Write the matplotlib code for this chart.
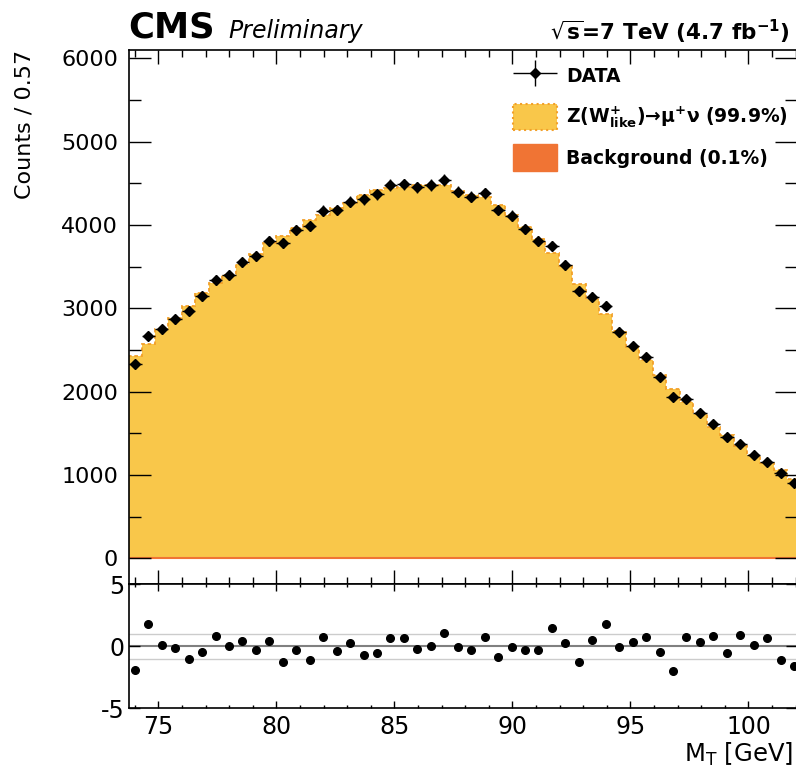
import numpy as np
import matplotlib.pyplot as plt
from matplotlib.patches import Patch
from matplotlib.ticker import MultipleLocator
from matplotlib.container import ErrorbarContainer
from matplotlib.legend_handler import HandlerErrorbar

plt.rcParams['font.family'] = ['DejaVu Sans']
plt.rcParams['mathtext.fontset'] = 'dejavusans'
plt.rcParams['axes.unicode_minus'] = False

# binning of M_T
bin_lo = 73.72
bin_w = 0.57
n_bins = 50

# counts per bin (data points)
data = [2330, 2670, 2750, 2870, 2970, 3150, 3340, 3400, 3550, 3630,
        3810, 3780, 3940, 3990, 4170, 4180, 4280, 4310, 4370, 4480,
        4490, 4450, 4480, 4540, 4400, 4340, 4380, 4180, 4110, 3950,
        3810, 3750, 3520, 3210, 3140, 3030, 2720, 2550, 2410, 2180,
        1940, 1910, 1740, 1610, 1450, 1370, 1240, 1160, 1020, 900]

# Z(W+like) -> mu nu expectation
zmumu = [2425, 2575, 2750, 2880, 3025, 3175, 3295, 3400, 3530, 3645,
         3785, 3860, 3960, 4060, 4120, 4205, 4260, 4355, 4410, 4435,
         4450, 4470, 4480, 4470, 4405, 4360, 4330, 4235, 4115, 3970,
         3830, 3660, 3505, 3285, 3110, 2930, 2720, 2535, 2375, 2200,
         2025, 1875, 1725, 1575, 1475, 1340, 1235, 1140, 1055, 950]

# background (0.1%)
bkg = [2, 2, 3, 3, 3, 3, 3, 4, 4, 4, 4, 4, 4, 4, 4, 4, 4, 4, 4, 4,
       4, 4, 4, 4, 4, 4, 4, 4, 4, 4, 4, 4, 3, 3, 3, 3, 3, 3, 3, 2,
       2, 2, 2, 2, 2, 2, 2, 2, 1, 1]

# pulls in the lower panel
pull = [-1.93, 1.82, 0.08, -0.16, -1.07, -0.48, 0.80, 0.0, 0.40, -0.32,
        0.40, -1.29, -0.32, -1.13, 0.72, -0.40, 0.24, -0.72, -0.56, 0.64,
        0.64, -0.24, 0.0, 1.05, -0.08, -0.32, 0.72, -0.88, -0.08, -0.32,
        -0.32, 1.45, 0.24, -1.29, 0.48, 1.77, -0.08, 0.32, 0.72, -0.48,
        -2.01, 0.72, 0.32, 0.80, -0.56, 0.88, 0.08, 0.64, -1.13, -1.61]

yellow = '#F9C74A'
yedge = '#F2A02A'
orange = '#F07434'

edges = bin_lo + bin_w * np.arange(n_bins + 1)
centers = edges[:-1] + bin_w / 2
data = np.array(data, dtype=float)
total = np.array(zmumu) + np.array(bkg)

W, H = 796, 768
fig = plt.figure(figsize=(W / 100, H / 100), dpi=100)
x0 = 129.3 / W
wd = (797 - 129.3) / W
ax = fig.add_axes([x0, 1 - 584 / H, wd, (584 - 50) / H])
ax2 = fig.add_axes([x0, 1 - 708.3 / H, wd, 124.3 / H])

# stacked histogram
ax.stairs(total, edges, fill=True, color=yellow, baseline=0)
ax.stairs(total, edges, baseline=None, color=yedge, lw=1.3, linestyle=(0, (2, 1.5)))
ax.stairs(bkg, edges, fill=True, color=orange, baseline=0)
ax.stairs(bkg, edges, baseline=None, color=orange, lw=1.5)

eb = ax.errorbar(centers, data, xerr=bin_w / 2, yerr=np.sqrt(data), fmt='D', ms=5.5,
                 color='k', elinewidth=1, capsize=0)

ax.set_xlim(73.77, 102.06)
ax.set_ylim(-308, 6100)
ax.xaxis.set_major_locator(MultipleLocator(5))
ax.xaxis.set_minor_locator(MultipleLocator(1))
ax.yaxis.set_major_locator(MultipleLocator(1000))
ax.yaxis.set_minor_locator(MultipleLocator(500))
ax.tick_params(axis='both', which='both', direction='in', top=True, right=True,
               labelbottom=False, width=1)
ax.tick_params(axis='y', which='major', length=16, labelsize=16, pad=8)
ax.tick_params(axis='y', which='minor', length=8.5)
ax.tick_params(axis='x', which='major', length=10)
ax.tick_params(axis='x', which='minor', length=5)
for s in ax.spines.values():
    s.set_linewidth(1.2)

# lower panel
ax2.axhline(0, color='#808080', lw=1.5, zorder=1)
ax2.axhline(1, color='#cccccc', lw=1, zorder=1)
ax2.axhline(-1, color='#cccccc', lw=1, zorder=1)
ax2.plot(centers, pull, 'o', color='k', ms=5.5, zorder=3)
ax2.set_xlim(73.77, 102.06)
ax2.set_ylim(-5, 5)
ax2.set_yticks([-5, 0, 5])
ax2.xaxis.set_major_locator(MultipleLocator(5))
ax2.xaxis.set_minor_locator(MultipleLocator(1))
ax2.tick_params(axis='both', which='both', direction='in', top=True, right=True, width=1)
ax2.tick_params(axis='x', which='major', length=5, labelsize=17, pad=5)
ax2.tick_params(axis='x', which='minor', length=2.5)
ax2.tick_params(axis='y', which='major', length=8, labelsize=17, pad=3.5)
for s in ax2.spines.values():
    s.set_linewidth(1.2)

# texts
fig.text(128 / W, 1 - 38 / H, 'CMS', fontsize=25.5, fontweight='bold', va='baseline')
fig.text(228 / W, 1 - 38 / H, 'Preliminary', fontsize=17, style='italic', va='baseline')
fig.text(790 / W, 1 - 40 / H, r'$\sqrt{\mathbf{s}}$=7 TeV (4.7 fb$^{\mathbf{-1}}$)',
         fontsize=15.5, fontweight='bold', ha='right', va='baseline')
fig.text(25 / W, 1 - 50 / H, 'Counts / 0.57', rotation=90, ha='center', va='top', fontsize=16)
fig.text(793 / W, 1 - 761.5 / H, r'M$_{\mathrm{T}}$ [GeV]', ha='right', va='baseline', fontsize=17.5)

handles = [eb,
           Patch(facecolor=yellow, edgecolor=yedge, linestyle=':', lw=1.5),
           Patch(facecolor=orange, edgecolor=orange)]
labels = ['DATA',
          r'Z(W$^{\mathbf{+}}_{\mathbf{like}}$)→μ$^{\mathbf{+}}$ν (99.9%)',
          'Background (0.1%)']
fig.legend(handles, labels, loc='upper left', bbox_to_anchor=(513 / W, 1 - 63 / H),
           frameon=False, borderpad=0, borderaxespad=0, handlelength=2.35,
           handleheight=1.8, handletextpad=0.48, labelspacing=0.75,
           prop={'weight': 'bold', 'size': 13.5},
           handler_map={ErrorbarContainer: HandlerErrorbar(xerr_size=1.17, yerr_size=0.7)})

fig.savefig('out.png', dpi=100)
